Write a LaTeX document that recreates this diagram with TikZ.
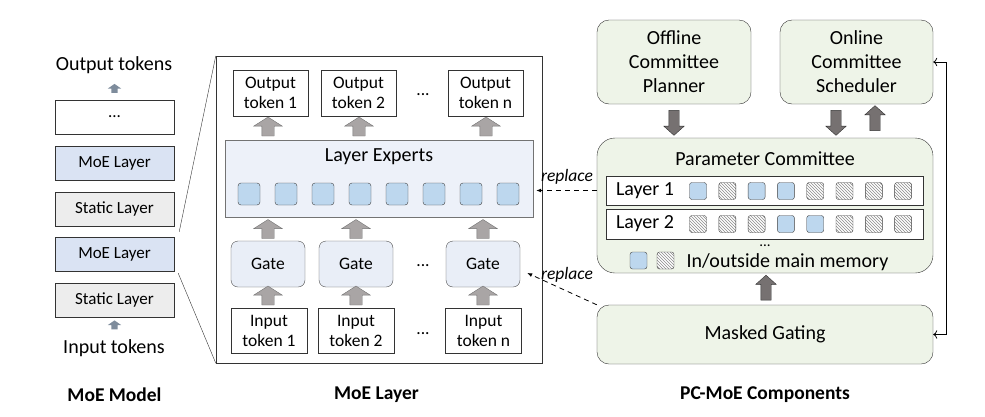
\documentclass[tikz,border=0pt]{standalone}
\usepackage{fontspec}
\setmainfont{Carlito}
\usetikzlibrary{shapes.arrows,patterns,arrows.meta}
\definecolor{moe-blue}{HTML}{DAE3F3}
\definecolor{static-gray}{HTML}{EDEDED}
\definecolor{expert-bg}{HTML}{EDF1F9}
\definecolor{expert-sq}{HTML}{BDD7EE}
\definecolor{gate-fill}{HTML}{E9EEF7}
\definecolor{pc-green}{HTML}{EEF4E8}
\definecolor{arrow-light}{HTML}{A9A5A5}
\definecolor{arrow-dark}{HTML}{767171}
\definecolor{arrow-small}{HTML}{7E8C9C}
\tikzset{
    txt/.style = {font=\fontsize{17.5}{20}\selectfont},
    big-txt/.style = {font=\fontsize{20}{24}\selectfont},
    plain-box/.style = {txt, draw=black!80, fill=white, thin, rectangle, inner sep=0pt, align=center},
    layer-box/.style = {plain-box, font=\fontsize{17}{20}\selectfont, minimum width=119pt, minimum height=34pt},
    token-box/.style = {plain-box, minimum width=75pt, minimum height=46pt},
    gate-box/.style = {plain-box, draw=black!70, fill=gate-fill, rounded corners=7pt, minimum width=74pt, minimum height=46pt},
    expert/.style = {draw=black!75, fill=expert-sq, rounded corners=3pt, minimum size=22pt, inner sep=0pt},
    in-mem/.style = {draw=black!75, fill=expert-sq, rounded corners=2.5pt, minimum size=17pt, inner sep=0pt},
    out-mem/.style = {draw=black!75, rounded corners=2.5pt, minimum size=17pt, inner sep=0pt, preaction={fill=white}, pattern=north west lines, pattern color=black!45},
    green-box/.style = {big-txt, draw=black!80, fill=pc-green, rounded corners=12pt, align=center, inner sep=0pt},
    light-arrow/.style = {single arrow, draw=black!55, fill=arrow-light, inner sep=6pt, single arrow head extend=8pt, single arrow tip angle=115, minimum height=19pt, shape border rotate=90},
    dark-arrow/.style = {single arrow, draw=black!80, fill=arrow-dark, inner sep=5pt, single arrow head extend=5pt, single arrow tip angle=96, minimum height=25pt},
    small-arrow/.style = {single arrow, draw=none, fill=arrow-small, inner sep=3pt, single arrow head extend=3.5pt, single arrow tip angle=110, minimum height=9pt, shape border rotate=90},
    dots/.style = {txt, anchor=base},
    replace-line/.style = {dashed, dash pattern=on 5pt off 4pt, thick, -{Latex[length=5pt,width=4pt]}},
    replace-label/.style = {font=\fontsize{17.5}{20}\selectfont\itshape},
    title/.style = {font=\fontsize{19.5}{22}\selectfont\bfseries},
}
\begin{document}
\begin{tikzpicture}[x=1pt,y=-1pt]
\useasboundingbox (0,0) rectangle (985,416);

\node[big-txt] (outtok) at (114,65) {Output tokens};
\node[layer-box] (dots-layer) at (114.5,117) {...};
\node[layer-box, fill=moe-blue] (moe2) at (114.5,163) {MoE Layer};
\node[layer-box, fill=static-gray] (static2) at (114.5,209) {Static Layer};
\node[layer-box, fill=moe-blue] (moe1) at (114.5,254) {MoE Layer};
\node[layer-box, fill=static-gray] (static1) at (114.5,300) {Static Layer};
\node[big-txt] (intok) at (114,348) {Input tokens};
\node[small-arrow] at (114.5,89.5) {};
\node[small-arrow] at (114.5,326) {};

\node[draw=black!80, thin, minimum width=326pt, minimum height=307pt, inner sep=0pt] (moebox) at (379,209.5) {};
\draw[black!80] ([shift={(5,-5)}]moe1.north east) -- (moebox.north west);
\draw[black!80] ([shift={(4,2)}]moe1.south east) -- (moebox.south west);

\node[token-box] (out1) at (270.5,93) {Output\\token 1};
\node[token-box] (out2) at (358.5,93) {Output\\token 2};
\node[token-box] (outn) at (485.5,93) {Output\\token n};
\node[dots] at (423,95) {...};

\node[plain-box, draw=black!55, fill=expert-bg, minimum width=308pt, minimum height=77pt] (experts) at (379,178.5) {};
\node[big-txt] (experts-title) at (379,157) {Layer Experts};
\foreach \i in {0,...,7}
    \node[expert] (exp\i) at (249+37*\i,194) {};

\node[gate-box] (gate1) at (268,264) {Gate};
\node[gate-box] (gate2) at (356,264) {Gate};
\node[gate-box] (gaten) at (483,264) {Gate};
\node[dots] at (423,266) {...};

\node[token-box, minimum width=76pt, minimum height=45pt] (in1) at (269,330.5) {Input\\token 1};
\node[token-box, minimum width=76pt, minimum height=45pt] (in2) at (356,330.5) {Input\\token 2};
\node[token-box, minimum width=76pt, minimum height=45pt] (inn) at (483.5,330.5) {Input\\token n};
\node[dots] at (423,334) {...};

\foreach \x in {268,359,486}
    \node[light-arrow] at (\x,128.5) {};
\foreach \x in {268,356,483}
    \node[light-arrow] at (\x,231) {};
\foreach \x in {268,356,483}
    \node[light-arrow] at (\x,297.5) {};

\node[green-box, minimum width=154pt, minimum height=84pt] (offline) at (674,62) {Offline\\Committee\\Planner};
\node[green-box, minimum width=153pt, minimum height=84pt] (online) at (856.5,62) {Online\\Committee\\Scheduler};
\node[green-box, rounded corners=18pt, minimum width=336pt, minimum height=135pt] (param) at (765,205.5) {};
\node[big-txt] (param-title) at (765,159) {Parameter Committee};
\node[plain-box, minimum width=317pt, minimum height=29pt] (row1) at (764.5,190.5) {};
\node[plain-box, minimum width=317pt, minimum height=30pt] (row2) at (764.5,224) {};
\node[big-txt] at (645,190.5) {Layer 1};
\node[big-txt] at (645,224) {Layer 2};
\foreach \s [count=\i from 0] in {in-mem,out-mem,in-mem,in-mem,out-mem,out-mem,out-mem,out-mem}
    \node[\s] at (698+29.3*\i,191) {};
\foreach \s [count=\i from 0] in {out-mem,out-mem,out-mem,in-mem,in-mem,out-mem,out-mem,out-mem}
    \node[\s] at (698+29.3*\i,224) {};
\node[dots, font=\fontsize{15}{18}\selectfont] at (765,246.5) {...};
\node[in-mem] (legend-in) at (638.5,260.5) {};
\node[out-mem] (legend-out) at (665.5,260.5) {};
\node[big-txt, anchor=west] at (683,262) {In/outside main memory};
\node[green-box, minimum width=336pt, minimum height=59pt] (masked) at (765,334.5) {Masked Gating};

\node[dark-arrow, shape border rotate=270] at (674,120.5) {};
\node[dark-arrow, shape border rotate=270] at (836,120.5) {};
\node[dark-arrow, shape border rotate=90] at (875,120.5) {};
\node[dark-arrow, shape border rotate=90] at (766,290) {};

\draw[thick, {To[length=4pt]}-{To[length=4pt]}] (masked.east) -- ++(13,0) |- (online.east);

\draw[replace-line] (row1.west -| param.west) -- ([xshift=3pt]row1.west -| experts.east);
\node[replace-label] at (567,177) {replace};
\draw[replace-line] (masked.north west) -- ([shift={(7,9)}]gaten.east);
\node[replace-label] at (567,275) {replace};

\node[title] at (114.5,395) {MoE Model};
\node[title] at (376.5,395) {MoE Layer};
\node[title] at (765,395) {PC-MoE Components};
\end{tikzpicture}
\end{document}
